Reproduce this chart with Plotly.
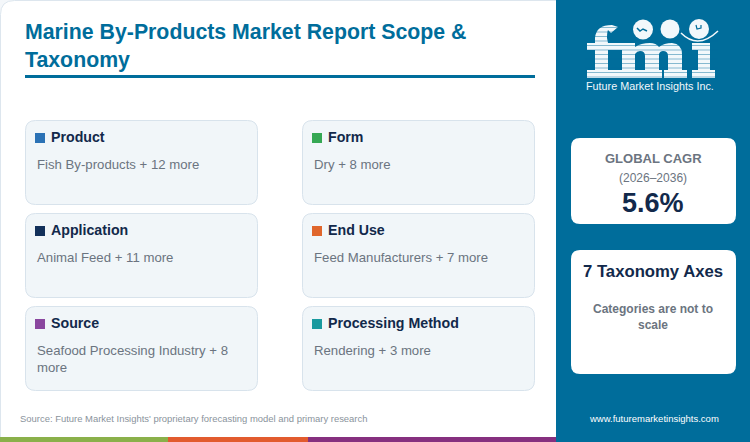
import plotly.graph_objects as go

TITLE = "Marine By-Products Market Report Scope &<br>Taxonomy"
SOURCE = "Source: Future Market Insights' proprietary forecasting model and primary research"
URL = "www.futuremarketinsights.com"

axes_names = ["Product", "Form", "Application", "End Use", "Source", "Processing Method"]
axes_values = [
    "Fish By-products + 12 more",
    "Dry + 8 more",
    "Animal Feed + 11 more",
    "Feed Manufacturers + 7 more",
    "Seafood Processing Industry + 8<br>more",
    "Rendering + 3 more",
]
axes_colors = ["#2b72b5", "#36a854", "#12305a", "#e0662c", "#8a479f", "#1a9a9f"]

TEAL = "#006d9b"
NAVY = "#12294b"
GREY = "#6b7480"
FONT = "Liberation Sans"

fig = go.Figure()
shapes = []
notes = []


def round_rect(x0, y0, x1, y1, r):
    return (
        f"M{x0 + r},{y0} L{x1 - r},{y0} Q{x1},{y0} {x1},{y0 + r} L{x1},{y1 - r} "
        f"Q{x1},{y1} {x1 - r},{y1} L{x0 + r},{y1} Q{x0},{y1} {x0},{y1 - r} "
        f"L{x0},{y0 + r} Q{x0},{y0} {x0 + r},{y0} Z"
    )


def add_path(path, fill, line=None, width=0, layer="below"):
    shapes.append(dict(type="path", path=path, fillcolor=fill, layer=layer,
                       line=dict(color=line or fill, width=width)))


def add_rect(x0, y0, x1, y1, fill, layer="below"):
    shapes.append(dict(type="rect", x0=x0, y0=y0, x1=x1, y1=y1, fillcolor=fill,
                       layer=layer, line=dict(width=0)))


def add_text(x, y, text, size, color, bold=False, anchor="left"):
    if bold:
        text = f"<b>{text}</b>"
    # annotations carry about 2px of padding on the left
    shift = -2 if anchor == "left" else 0
    notes.append(dict(x=x, y=y, xshift=shift, text=text, showarrow=False, xanchor=anchor,
                      yanchor="middle", align=anchor,
                      font=dict(family=FONT, size=size, color=color)))


# backgrounds
add_path(round_rect(0.5, 0.5, 600, 460, 14), "#ffffff", "#dde6ee", 1)
add_rect(0, 437, 168, 442, "#8ab04a")
add_rect(168, 437, 308, 442, "#e25b2e")
add_rect(308, 437, 557, 442, "#86307f")
add_rect(556, 0, 750, 442, TEAL)

# heading
add_text(25, 46, f"<b>{TITLE}</b>", 21.3, TEAL)
add_rect(25, 75, 535, 78, TEAL)

# taxonomy cards
for i, name in enumerate(axes_names):
    left = 25.5 + 277 * (i % 2)
    top = 120.5 + 93 * (i // 2)
    add_path(round_rect(left, top, left + 232, top + 84, 10), "#f1f6f9", "#d8e3ec", 1)
    add_rect(left + 9.5, top + 12.5, left + 19.5, top + 22.5, axes_colors[i])
    add_text(left + 25.5, top + 16.2, name, 14.2, NAVY, bold=True)
    yc = top + 44 if "<br>" not in axes_values[i] else top + 52.5
    add_text(left + 11.5, yc, axes_values[i], 13.2, GREY)

add_text(20, 418.5, SOURCE, 9.45, "#8a939c")

# side cards
add_path(round_rect(571, 138, 736, 224, 9), "#ffffff")
add_text(653, 158, "GLOBAL CAGR", 13, GREY, bold=True, anchor="center")
add_text(653, 177.5, "(2026–2036)", 12, GREY, anchor="center")
add_text(653, 203, "5.6%", 27, NAVY, bold=True, anchor="center")

add_path(round_rect(571, 250, 736, 374, 9), "#ffffff")
add_text(653, 271, "7 Taxonomy Axes", 16.7, NAVY, bold=True, anchor="center")
add_text(653, 317, "Categories are not to<br>scale", 12, GREY, bold=True, anchor="center")
add_text(653.5, 418.5, URL, 9.5, "#ffffff", anchor="center")

# logo: letters, striped with panel colour
WHITE = "#f2f8fb"
add_path("M587,43 L595,43 L595,38 Q596,25 612,25 L618,27 L611,33 L608,30 Q607,32 607,38 L608,43 "
         "L618,43 L618,50 L608,50 L608,70 L618,70 L618,78 L587,78 L587,70 L595,70 L595,50 "
         "L587,50 Z", WHITE)
add_path("M613,43 L635,43 L635,47 Q641,43 650,43 Q656,43 659,47 Q664,43 672,43 Q682,44 682,54 "
         "L682,70 L687,70 L687,78 L662,78 L662,70 L668,70 L668,56 Q668,51 663,51 Q660,51 659,54 "
         "L659,70 L664,70 L664,78 L640,78 L640,70 L645,70 L645,56 Q645,51 640,51 Q637,51 635,54 "
         "L635,70 L640,70 L640,78 L613,78 L613,70 L622,70 L622,50 L613,50 Z", WHITE)
add_path("M692,43 L710,43 L710,70 L715,70 L715,78 L692,78 L692,70 L698,70 L698,50 L692,50 Z", WHITE)
y = 27.0
while y < 78:
    add_rect(585, y, 718, y + 1.0, "rgba(0,109,155,0.45)")
    y += 4.5
for cx, cy, r in [(643, 29.5, 10), (670, 29, 9.5), (699, 29, 10)]:
    shapes.append(dict(type="circle", x0=cx - r, y0=cy - r, x1=cx + r, y1=cy + r,
                       fillcolor=WHITE, line=dict(width=0), layer="below"))
shapes.append(dict(type="path", path="M681,33 Q698,50 718,31", layer="below",
                   line=dict(color=WHITE, width=1.5)))
shapes.append(dict(type="path", path="M637,28 L640,31 L643,29 L647,31", layer="below",
                   line=dict(color=TEAL, width=1.5)))
shapes.append(dict(type="path", path="M696,25 L697,29 L701,28 L701,25", layer="below",
                   line=dict(color=TEAL, width=1.2)))
add_text(650, 86, "Future Market Insights Inc.", 10.8, WHITE, anchor="center")

fig.update_layout(
    width=750,
    height=442,
    margin=dict(l=0, r=0, t=0, b=0),
    paper_bgcolor="#f4f7fa",
    plot_bgcolor="rgba(0,0,0,0)",
    showlegend=False,
    shapes=shapes,
    annotations=notes,
    xaxis=dict(range=[0, 750], visible=False, fixedrange=True),
    yaxis=dict(range=[442, 0], visible=False, fixedrange=True),
)
fig.write_html("out.html", config=dict(displayModeBar=False),
               post_script="document.body.style.margin='0';document.body.style.overflow='hidden';")
